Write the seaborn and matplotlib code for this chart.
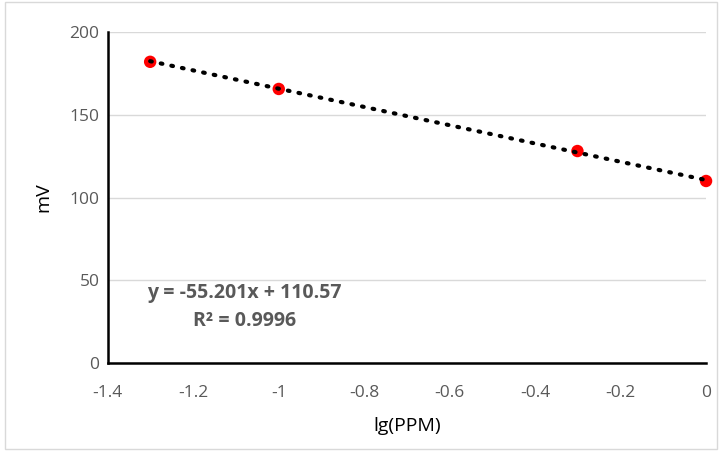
import numpy as np
import pandas as pd
import matplotlib
matplotlib.use("Agg")
import matplotlib.pyplot as plt
import seaborn as sns

# data
lg_ppm = [-1.301, -1.0, -0.301, 0.0]
mv = [182.0, 165.6, 128.1, 110.0]
slope = -55.201
intercept = 110.57
r2 = 0.9996

x_ticks = [-1.4, -1.2, -1.0, -0.8, -0.6, -0.4, -0.2, 0.0]
x_labels = ["-1.4", "-1.2", "-1", "-0.8", "-0.6", "-0.4", "-0.2", "0"]
y_ticks = [0, 50, 100, 150, 200]

sns.set_style("white")
plt.rcParams['font.family'] = ['Open Sans', 'DejaVu Sans']

df = pd.DataFrame({'lg(PPM)': lg_ppm, 'mV': mv})
trend_x = np.array([min(lg_ppm), max(lg_ppm)])
df_trend = pd.DataFrame({'x': trend_x, 'y': slope * trend_x + intercept})

fig = plt.figure(figsize=(7.19, 4.51), dpi=100)
ax = fig.add_axes([0.150, 0.195, 0.832, 0.734])

# chart border
fig.patches.append(plt.Rectangle((0.007, 0.004), 0.99, 0.992, transform=fig.transFigure,
                                 fill=False, edgecolor='#d9d9d9', linewidth=1))

sns.scatterplot(data=df, x='lg(PPM)', y='mV', color='#ff0000', s=80,
                edgecolor='none', zorder=3, clip_on=False, ax=ax)
sns.lineplot(data=df_trend, x='x', y='y', color='black', linewidth=3,
             linestyle=(0, (0.4, 2.2)), dash_capstyle='round', zorder=4, ax=ax)

ax.set_xlim(-1.4, 0)
ax.set_ylim(0, 200)
ax.set_xticks(x_ticks)
ax.set_xticklabels(x_labels)
ax.set_yticks(y_ticks)
ax.yaxis.grid(True, color='#d9d9d9', linewidth=1)
ax.set_axisbelow(True)

for side in ['top', 'right']:
    ax.spines[side].set_visible(False)
for side in ['left', 'bottom']:
    ax.spines[side].set_color('black')
    ax.spines[side].set_linewidth(1.8)

ax.tick_params(axis='both', colors='black', labelcolor='#595959', labelsize=12.5,
               length=5, width=1.5, direction='inout')
ax.tick_params(axis='x', pad=13)
ax.set_xlabel('lg(PPM)', fontsize=14, color='black', labelpad=12)
ax.set_ylabel('mV', fontsize=14, color='black', labelpad=12)

ax.text(-1.08, 34, f'y = {slope}x + {intercept}\nR² = {r2}', ha='center', va='center',
        fontsize=14, fontweight='bold', color='#595959', linespacing=1.55)

fig.savefig('out.png', dpi=100)
